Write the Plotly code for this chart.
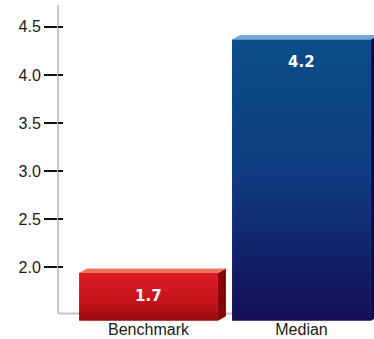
import plotly.graph_objects as go

# ---- data ----
categories = ["Benchmark", "Median"]
values = [1.7, 4.2]
tick_values = [2.0, 2.5, 3.0, 3.5, 4.0, 4.5]
tick_labels = ["2.0", "2.5", "3.0", "3.5", "4.0", "4.5"]

# ---- styles ----
front_scales = [
    [[0, "#980a0e"], [0.4, "#c5141b"], [1, "#db1b22"]],
    [[0, "#140d55"], [0.5, "#0f3a7f"], [1, "#0a4e88"]],
]
top_colors = ["#ea745e", "#7ba6d9"]
side_colors = ["#860708", "#0e0b4c"]

BASE = 1.19          # bar floor on the bar axis
HALF_W = 0.454       # half bar width (category units)
DX = 8 / 153         # 3-D depth, x (category units)
DY = 4.5 / 93.4      # 3-D depth, y (bar-axis units)

fig = go.Figure()
xs = list(range(len(categories)))

# traces to activate the visible axes
fig.add_trace(go.Scatter(x=[0], y=[3.0], yaxis="y", mode="markers",
                         marker=dict(opacity=0), showlegend=False, hoverinfo="skip"))
fig.add_trace(go.Scatter(x=[0], y=[3.0], yaxis="y3", mode="markers",
                         marker=dict(opacity=0), showlegend=False, hoverinfo="skip"))

for i, (c, v) in enumerate(zip(xs, values)):
    l, r = c - HALF_W, c + HALF_W
    # side face
    fig.add_trace(go.Scatter(
        x=[r, r, r + DX, r + DX, r], y=[BASE, v, v + DY, BASE + DY, BASE],
        fill="toself", fillcolor=side_colors[i], mode="lines", line=dict(width=0),
        yaxis="y2", hoverinfo="skip", showlegend=False))
    # top face
    fig.add_trace(go.Scatter(
        x=[l, r, r + DX, l + DX, l], y=[v, v, v + DY, v + DY, v],
        fill="toself", fillcolor=top_colors[i], mode="lines", line=dict(width=0),
        yaxis="y2", hoverinfo="skip", showlegend=False))
    # front face
    fig.add_trace(go.Scatter(
        x=[l, r, r, l, l], y=[BASE, BASE, v, v, BASE],
        fill="toself", mode="lines", line=dict(width=0),
        fillgradient=dict(type="vertical", colorscale=front_scales[i]),
        yaxis="y2", hoverinfo="skip", showlegend=False))
    fig.add_annotation(x=c, y=v, xref="x", yref="y2", text=f"<b>{v:.1f}</b>",
                       showarrow=False, yanchor="top", yshift=-12,
                       font=dict(family="DejaVu Sans", size=15, color="white"))

# axis lines as light grey frame
fig.add_shape(type="line", xref="paper", yref="paper", x0=0, x1=0, y0=0.0237, y1=1,
              line=dict(color="#c6c6c6", width=2), layer="below")
fig.add_shape(type="line", xref="paper", yref="paper", x0=0, x1=1, y0=0.0237, y1=0.0237,
              line=dict(color="#c6c6c6", width=2), layer="below")

axis_font = dict(family="Liberation Sans", size=16, color="#1a1a1a")
yrange = [1.442, 4.727]
fig.update_layout(
    width=374, height=339,
    margin=dict(l=58, r=0, t=5, b=18),
    paper_bgcolor="white", plot_bgcolor="white",
    showlegend=False,
    xaxis=dict(range=[-0.5915, 1.4739], tickvals=xs, ticktext=categories,
               showgrid=False, zeroline=False, showline=False, ticks="",
               ticklabelstandoff=-3, automargin=False,
               tickfont=axis_font, fixedrange=True),
    yaxis=dict(range=yrange, tickvals=tick_values, ticktext=tick_labels,
               ticks="outside", ticklen=13, tickwidth=1.5, tickcolor="#111111",
               showgrid=False, zeroline=False, showline=False, automargin=False,
               tickfont=axis_font, fixedrange=True),
    yaxis3=dict(range=yrange, tickvals=tick_values, showticklabels=False,
                ticks="inside", ticklen=5, tickwidth=1.5, tickcolor="#111111",
                overlaying="y", side="left", showgrid=False, zeroline=False,
                showline=False, automargin=False, fixedrange=True),
    yaxis2=dict(range=[1.186, 4.569], overlaying="y", side="right", visible=False,
                showgrid=False, zeroline=False, fixedrange=True),
)

fig.write_html("out.html")
